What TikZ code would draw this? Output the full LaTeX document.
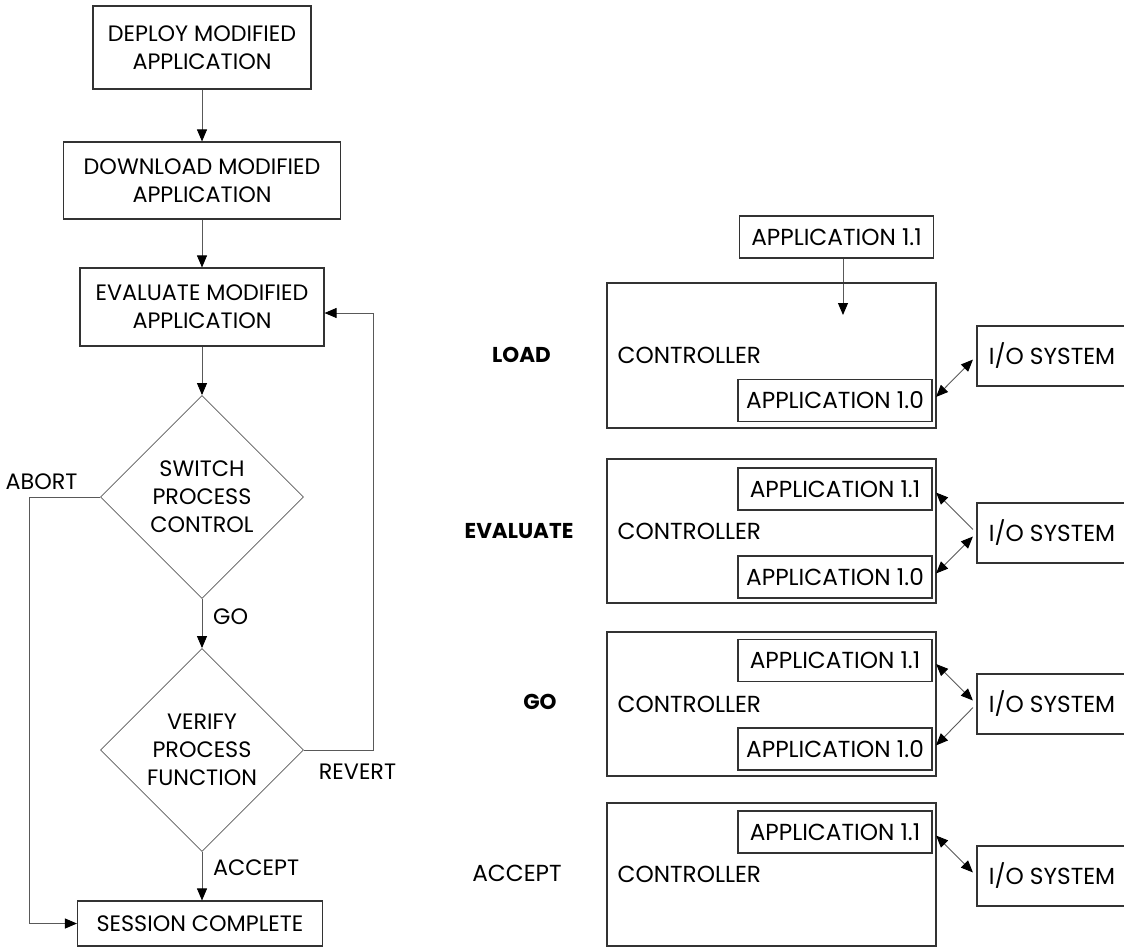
\documentclass[tikz,border=0pt]{standalone}
\usepackage{fontspec}
\setmainfont{Poppins}
\usetikzlibrary{shapes.geometric,arrows.meta}
\begin{document}
\begin{tikzpicture}[x=1pt,y=-1pt,
  fl/.style={font=\fontsize{22.3}{28}\selectfont},
  fr/.style={font=\fontsize{23.2}{28}\selectfont},
  fb/.style={font=\fontsize{21.5}{28}\selectfont\bfseries},
  box/.style={draw=black!80, line width=1.1pt, rectangle, inner sep=0pt, align=center},
  dia/.style={draw=black!65, line width=0.8pt, diamond, aspect=1, inner sep=0pt, align=center,
              minimum width=203pt, minimum height=203pt, fl},
  conn/.style={draw=black!65, line width=0.9pt},
  tipe/.style={-{Triangle[length=12pt,width=10pt,color=black]}},
  tipb/.style={{Triangle[length=12pt,width=10pt,color=black]}-{Triangle[length=12pt,width=10pt,color=black]}},
  lab/.style={inner sep=0pt},
  ctl/.style={box, minimum width=329pt},
  app/.style={box, minimum width=194pt, minimum height=42pt, fr},
  io/.style={box, minimum width=150pt, minimum height=60pt, fr},
  ctext/.style={anchor=west, inner sep=0pt, fr},
  side/.style={inner sep=0pt},
  gap/.style={shorten <=5pt, shorten >=5pt}
]
\useasboundingbox (0,0) rectangle (1124,947);

% ---------- left flowchart ----------
\node[box, fl, minimum width=218pt, minimum height=83pt] (deploy) at (202,47.5) {DEPLOY MODIFIED\\APPLICATION};
\node[box, fl, minimum width=277pt, minimum height=77pt] (download) at (202,180.5) {DOWNLOAD MODIFIED\\APPLICATION};
\node[box, fl, minimum width=244pt, minimum height=78pt] (evaluate) at (202,307) {EVALUATE MODIFIED\\APPLICATION};
\node[dia] (switch) at (202,497) {SWITCH\\PROCESS\\CONTROL};
\node[dia] (verify) at (202,750) {VERIFY\\PROCESS\\FUNCTION};
\node[box, fl, minimum width=245pt, minimum height=45pt] (session) at (200,923.5) {SESSION COMPLETE};

\draw[conn, tipe] (deploy) -- (download);
\draw[conn, tipe] (download) -- (evaluate);
\draw[conn, tipe] (evaluate) -- (switch);
\draw[conn, tipe] (switch) -- (verify);
\draw[conn, tipe] (verify.south) -- (verify.south |- session.north);

\coordinate (abortc) at (29,497);
\draw[conn, tipe] (switch.west) -- (abortc) |- (session.west);

\coordinate (revc) at (373,750);
\coordinate (revt) at (373,313);
\draw[conn, tipe] (verify.east) -- (revc) -- (revt) -- (revt -| evaluate.east);

\node[lab, fl] (labort) at (41.5,482) {ABORT};
\node[lab, fl, anchor=west] (lgo) at (213,617) {GO};
\node[lab, fl] (lrevert) at (357.5,772) {REVERT};
\node[lab, fl, anchor=west] (laccept) at (213,868) {ACCEPT};

% ---------- right side ----------
\node[app] (topapp) at (836.5,237) {APPLICATION 1.1};
\coordinate (ldtip) at (843,315);
\draw[conn, tipe] (topapp.south -| ldtip) -- (ldtip);

% LOAD
\node[ctl, minimum height=145pt] (c1) at (771.5,355.5) {};
\node[ctext] (t1) at ([xshift=11pt]c1.west) {CONTROLLER};
\node[app] (a10l) at (835,400.5) {APPLICATION 1.0};
\node[io] (io1) at (1052,356) {I/O SYSTEM};
\draw[conn, tipb, gap] (a10l.east) -- (io1.west);
\node[side, fb] (s1) at (521.5,355) {LOAD};

% EVALUATE
\node[ctl, minimum height=144pt] (c2) at (771.5,531) {};
\node[ctext] (t2) at ([xshift=11pt]c2.west) {CONTROLLER};
\node[app] (a11e) at (835,489) {APPLICATION 1.1};
\node[app] (a10e) at (835,577) {APPLICATION 1.0};
\node[io] (io2) at (1052,533) {I/O SYSTEM};
\draw[conn, tipe, gap] (io2.west) -- (a11e.east);
\draw[conn, tipb, gap] (a10e.east) -- (io2.west);
\node[side, fb] (s2) at (519,531) {EVALUATE};

% GO
\node[ctl, minimum height=144pt] (c3) at (771.5,704) {};
\node[ctext] (t3) at ([xshift=11pt]c3.west) {CONTROLLER};
\node[app] (a11g) at (835,660.5) {APPLICATION 1.1};
\node[app] (a10g) at (835,749) {APPLICATION 1.0};
\node[io] (io3) at (1052,704) {I/O SYSTEM};
\draw[conn, tipb, gap] (a11g.east) -- (io3.west);
\draw[conn, tipe, gap] (io3.west) -- (a10g.east);
\node[side, fb] (s3) at (540,702) {GO};

% ACCEPT
\node[ctl, minimum height=143pt] (c4) at (771.5,874.5) {};
\node[ctext] (t4) at ([xshift=11pt]c4.west) {CONTROLLER};
\node[app] (a11a) at (835,832) {APPLICATION 1.1};
\node[io] (io4) at (1052,876) {I/O SYSTEM};
\draw[conn, tipb, gap] (a11a.east) -- (io4.west);
\node[side, fr] (s4) at (517,873) {ACCEPT};
\end{tikzpicture}
\end{document}
